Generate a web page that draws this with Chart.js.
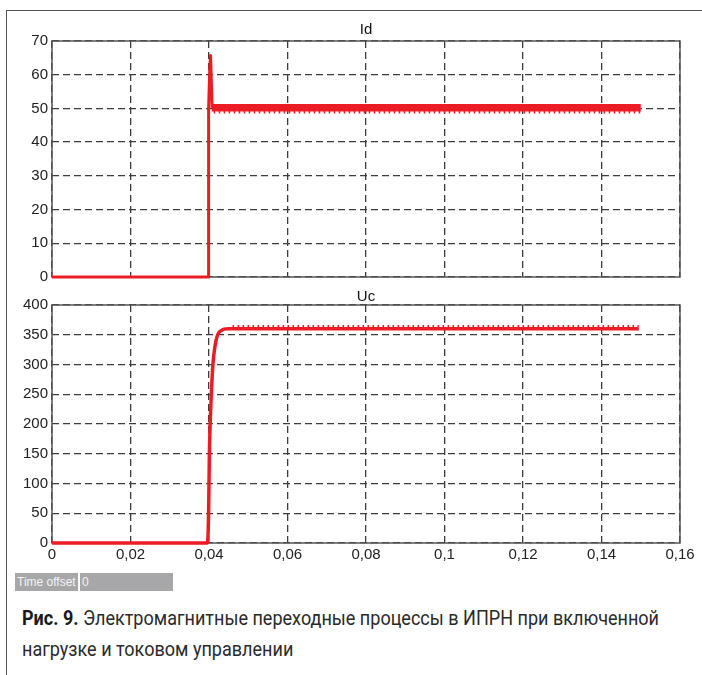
<!DOCTYPE html>
<html>
<head>
<meta charset="utf-8">
<script src="https://cdn.jsdelivr.net/npm/chart.js@4.4.1/dist/chart.umd.min.js"></script>
<style>
  html, body { margin: 0; padding: 0; background: #fff; width: 702px; height: 675px; overflow: hidden; }
  #frame { position: absolute; left: 6px; top: 10px; width: 760px; height: 760px;
           border-left: 1.5px solid #555; border-top: 1.5px solid #555; box-sizing: border-box; }
  canvas { position: absolute; left: 0; }
  #cTop { top: 0; }
  #cBot { top: 290px; }
  .tbox { position: absolute; top: 573px; height: 18px; background: #a7a7a9; color: #f4f4f4;
          font: 12px "Liberation Sans", Arial, sans-serif; line-height: 18px; box-sizing: border-box;
          padding-left: 3px; white-space: nowrap; overflow: hidden; }
  #tb1 { left: 15px; width: 63px; padding-left: 2px; }
  #tb2 { left: 80px; width: 93px; padding-left: 2px; }
  .cap { position: absolute; left: 22px; white-space: nowrap; color: #2a2a2a;
         font: 20px Roboto, "Noto Sans", sans-serif;
         transform-origin: 0 50%; }
  .cap b { font-weight: 700; color: #1a1a1a; }
  #cap1 { top: 606px; }
  #cap2 { top: 637px; }
</style>
</head>
<body>
<div id="frame"></div>
<canvas id="cTop" width="702" height="290"></canvas>
<canvas id="cBot" width="702" height="290"></canvas>
<div class="tbox" id="tb1">Time offset</div>
<div class="tbox" id="tb2">0</div>
<div class="cap" id="cap1"><b>Рис. 9.</b> Электромагнитные переходные процессы в ИПРН при включенной</div>
<div class="cap" id="cap2">нагрузке и токовом управлении</div>

<script>
// Time axis (seconds)
const timeTicks = [0, 0.02, 0.04, 0.06, 0.08, 0.1, 0.12, 0.14, 0.16];

// Id: current, start-up transient with overshoot
const idTime   = [0, 0.0398, 0.0399, 0.0402, 0.0404, 0.0406, 0.0408];
const idValues = [0, 0,      50,     62,     65.7,   58,     50.2];
// Id: steady-state band and lower ripple edge
const idBandTime    = [0.0407, 0.15];
const idBandValues  = [50.2, 50.2];
const idRippleTime  = [0.0412, 0.15];
const idRippleValues = [48.9, 48.9];
const idTicks = [0, 10, 20, 30, 40, 50, 60, 70];

// Uc: capacitor voltage rise to steady state
const ucTime   = [0, 0.0396, 0.0399, 0.0401, 0.0406, 0.0410, 0.0415, 0.0422, 0.0431, 0.0448, 0.1495];
const ucValues = [0, 0,      50,     150,    250,    300,    330,    350,    357,    360,    360];
// Uc: upper ripple edge
const ucRippleTime   = [0.046, 0.1495];
const ucRippleValues = [364.5, 364.5];
const ucTicks = [0, 50, 100, 150, 200, 250, 300, 350, 400];

const RED = '#ec1c24';
const GRID = '#3c3c3c';
const AXIS = '#555555';
const FONT = '"Liberation Sans", Arial, sans-serif';

const pts = (xs, ys) => xs.map((x, i) => ({ x: x, y: ys[i] }));
const fmtTime = v => String(Math.round(v * 100) / 100).replace('.', ',');

// Plot frame and panel title
const panelPlugin = {
  id: 'panel',
  beforeDatasetsDraw(chart, args, opts) {
    const a = chart.chartArea, ctx = chart.ctx;
    ctx.save();
    ctx.strokeStyle = AXIS;
    ctx.lineWidth = 1.5;
    ctx.strokeRect(a.left, a.top, a.right - a.left, a.bottom - a.top);
    ctx.restore();
  },
  afterDraw(chart, args, opts) {
    const a = chart.chartArea, ctx = chart.ctx;
    ctx.save();
    ctx.fillStyle = '#111';
    ctx.font = '15px ' + FONT;
    ctx.textAlign = 'center';
    ctx.textBaseline = 'middle';
    ctx.fillText(opts.text, (a.left + a.right) / 2, a.top + opts.offset);
    ctx.restore();
  }
};

function makePanel(canvasId, cfg) {
  return new Chart(document.getElementById(canvasId), {
    type: 'line',
    data: { datasets: cfg.datasets },
    options: {
      responsive: false,
      animation: false,
      devicePixelRatio: 1,
      layout: { padding: { top: cfg.padTop, right: 22, left: 0, bottom: 0 } },
      plugins: {
        legend: { display: false },
        tooltip: { enabled: false },
        panel: { text: cfg.title, offset: cfg.titleOffset }
      },
      elements: { point: { radius: 0 }, line: { tension: 0 } },
      scales: {
        x: {
          type: 'linear', min: 0, max: 0.16,
          afterBuildTicks: s => { s.ticks = timeTicks.map(v => ({ value: v })); },
          afterFit: s => { s.height = cfg.xHeight; },
          grid: { color: GRID, lineWidth: 1.3, drawTicks: false },
          border: { display: false, dash: [7, 4] },
          ticks: {
            display: cfg.showX, padding: 3, color: '#222',
            font: { family: FONT, size: 15 },
            callback: v => fmtTime(v)
          }
        },
        y: {
          type: 'linear', min: cfg.yTicks[0], max: cfg.yTicks[cfg.yTicks.length - 1],
          afterBuildTicks: s => { s.ticks = cfg.yTicks.map(v => ({ value: v })); },
          afterFit: s => { s.width = 52; },
          grid: { color: GRID, lineWidth: 1.3, drawTicks: false },
          border: { display: false, dash: [7, 4] },
          ticks: { padding: 4, color: '#222', font: { family: FONT, size: 15 } }
        }
      }
    },
    plugins: [panelPlugin]
  });
}

makePanel('cTop', {
  title: 'Id', titleOffset: -11, padTop: 41, xHeight: 11, showX: false, yTicks: idTicks,
  datasets: [
    { data: pts(idRippleTime, idRippleValues), borderColor: RED, borderWidth: 2.5,
      borderDash: [1.5, 3.5], clip: 6 },
    { data: pts(idBandTime, idBandValues), borderColor: RED, borderWidth: 7.5,
      borderCapStyle: 'butt', clip: 6 },
    { data: pts(idTime, idValues), borderColor: RED, borderWidth: 3,
      borderJoinStyle: 'round', clip: 6 }
  ]
});

makePanel('cBot', {
  title: 'Uc', titleOffset: -8, padTop: 15, xHeight: 37, showX: true, yTicks: ucTicks,
  datasets: [
    { data: pts(ucRippleTime, ucRippleValues), borderColor: RED, borderWidth: 2,
      borderDash: [1.5, 3.5], clip: 6 },
    { data: pts(ucTime, ucValues), borderColor: RED, borderWidth: 3.5,
      cubicInterpolationMode: 'monotone', borderJoinStyle: 'round', clip: 6 }
  ]
});

// Fit caption lines to the column width
(function () {
  const c1 = document.getElementById('cap1'), c2 = document.getElementById('cap2');
  const k = 637 / c1.getBoundingClientRect().width;
  c1.style.transform = 'scaleX(' + k + ')';
  c2.style.transform = 'scaleX(' + k + ')';
})();
</script>
</body>
</html>
